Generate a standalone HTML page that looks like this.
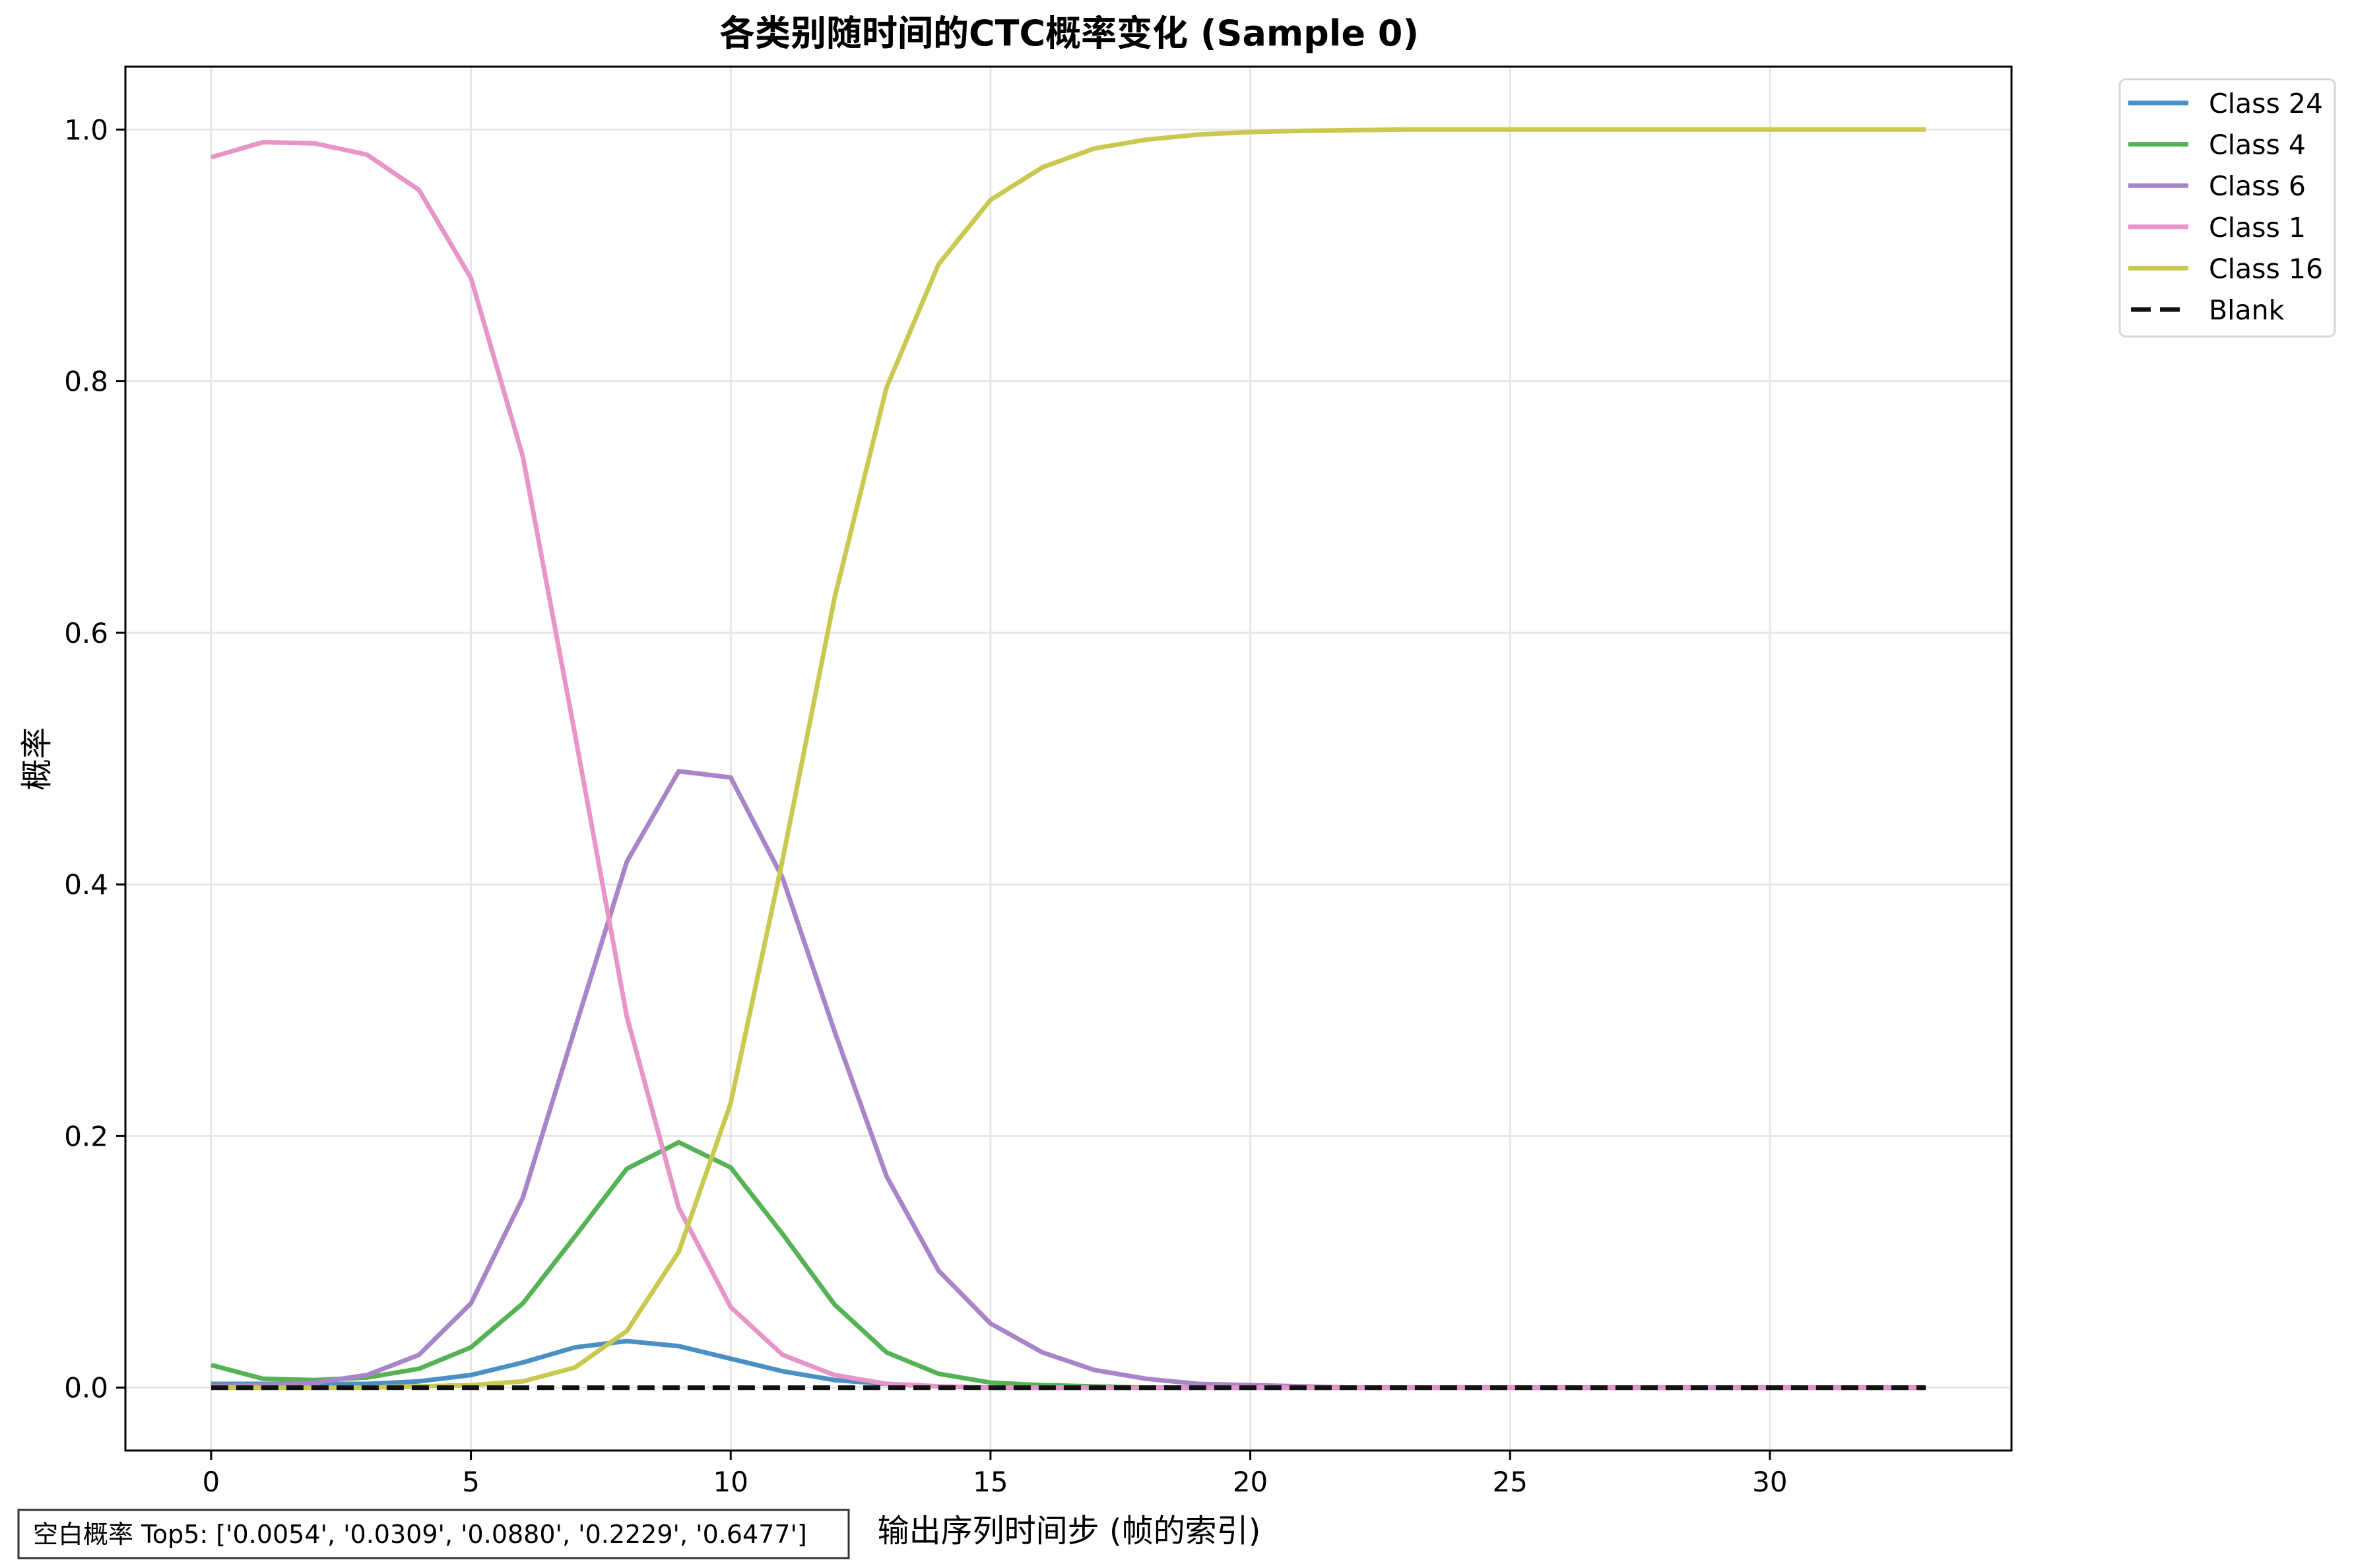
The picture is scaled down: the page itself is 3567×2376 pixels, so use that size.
<!DOCTYPE html>
<html><head><meta charset="utf-8"><style>
html,body{margin:0;padding:0;background:#fff;}
svg{display:block;}
text{font-family:"DejaVu Sans","Liberation Sans","Noto Sans CJK SC",sans-serif;fill:#000;}
</style></head><body>
<svg id="chart" width="3567" height="2376" viewBox="0 0 3567 2376" xmlns="http://www.w3.org/2000/svg">
<rect x="0" y="0" width="3567" height="2376" fill="#fff"/>
<g id="grid"></g>
<g id="series"></g>
<rect x="190" y="101" width="2858" height="2097" fill="none" stroke="#000" stroke-width="3"/>
<g id="ticks"></g>
<text x="1620" y="69" font-size="54" font-weight="bold" text-anchor="middle">各类别随时间的CTC概率变化 (Sample 0)</text>
<text x="1620" y="2336" font-size="48" text-anchor="middle">输出序列时间步 (帧的索引)</text>
<text x="0" y="0" font-size="48" text-anchor="middle" transform="translate(72,1150) rotate(-90)">概率</text>
<g>
<rect x="28" y="2288" width="1258" height="73" fill="#fff" stroke="#333" stroke-width="3"/>
<text x="50" y="2338" font-size="38">空白概率 Top5: ['0.0054', '0.0309', '0.0880', '0.2229', '0.6477']</text>
</g>
<g id="legend">
<rect x="3212" y="120" width="326" height="390" rx="9" fill="#fff" stroke="#d6d6d6" stroke-width="3"/>
</g>
</svg>
<script>
const steps = [0,1,2,3,4,5,6,7,8,9,10,11,12,13,14,15,16,17,18,19,20,21,22,23,24,25,26,27,28,29,30,31,32,33];
const class24 = [0.003,0.003,0.003,0.003,0.005,0.010,0.020,0.032,0.037,0.033,0.023,0.013,0.006,0.003,0.001,0,0,0,0,0,0,0,0,0,0,0,0,0,0,0,0,0,0,0];
const class4 = [0.018,0.007,0.006,0.008,0.015,0.032,0.067,0.120,0.174,0.195,0.175,0.122,0.066,0.028,0.011,0.004,0.002,0.001,0,0,0,0,0,0,0,0,0,0,0,0,0,0,0,0];
const class6 = [0.001,0.002,0.004,0.010,0.026,0.067,0.151,0.285,0.418,0.490,0.485,0.405,0.283,0.168,0.093,0.051,0.028,0.014,0.007,0.003,0.002,0.001,0,0,0,0,0,0,0,0,0,0,0,0];
const class1 = [0.978,0.990,0.989,0.980,0.952,0.882,0.740,0.520,0.295,0.143,0.064,0.026,0.010,0.003,0.001,0,0,0,0,0,0,0,0,0,0,0,0,0,0,0,0,0,0,0];
const class16 = [0,0,0,0,0.001,0.002,0.005,0.016,0.045,0.108,0.226,0.420,0.628,0.795,0.893,0.944,0.970,0.985,0.992,0.996,0.998,0.999,0.9995,1,1,1,1,1,1,1,1,1,1,1];
const blank = [0,0,0,0,0,0,0,0,0,0,0,0,0,0,0,0,0,0,0,0,0,0,0,0,0,0,0,0,0,0,0,0,0,0];
const xTicks = [0,5,10,15,20,25,30];
const yTicks = [0,0.2,0.4,0.6,0.8,1.0];
const yTickLabels = ["0.0","0.2","0.4","0.6","0.8","1.0"];
const seriesNames = ["Class 24","Class 4","Class 6","Class 1","Class 16","Blank"];

const NS = "http://www.w3.org/2000/svg";
const L=190,R=3048,T=101,B=2198;
const xMin=-1.65,xMax=34.65,yMin=-0.05,yMax=1.05;
const sx=v=>L+(v-xMin)/(xMax-xMin)*(R-L);
const sy=v=>B-(v-yMin)/(yMax-yMin)*(B-T);
function mk(tag,attrs,parent){const e=document.createElementNS(NS,tag);for(const k in attrs)e.setAttribute(k,attrs[k]);parent.appendChild(e);return e;}
const grid=document.getElementById('grid'),ticks=document.getElementById('ticks'),ser=document.getElementById('series'),leg=document.getElementById('legend');
xTicks.forEach(v=>{
  const g=mk('line',{x1:sx(v),x2:sx(v),y1:T,y2:B,stroke:'#e6e6e6','stroke-width':3},grid);
  
  
  const t=mk('line',{x1:sx(v),x2:sx(v),y1:B,y2:B+14,stroke:'#000','stroke-width':3},ticks);
  
  
  const tx=mk('text',{x:sx(v),y:B+62,'font-size':42,'text-anchor':'middle'},ticks);
  tx.textContent=v;
  
  
});
yTicks.forEach((v,i)=>{
  const g=mk('line',{x1:L,x2:R,y1:sy(v),y2:sy(v),stroke:'#e6e6e6','stroke-width':3},grid);
  
  
  const t=mk('line',{x1:L-14,x2:L,y1:sy(v),y2:sy(v),stroke:'#000','stroke-width':3},ticks);
  
  
  const tx=mk('text',{x:L-26,y:sy(v)+15,'font-size':42,'text-anchor':'end'},ticks);
  tx.textContent=yTickLabels[i];
  
  
});
const data=[class24,class4,class6,class1,class16,blank];
const colors=['#4a90c4','#55b355','#a884c8','#e794c8','#c9c94f','#111'];
data.forEach((arr,i)=>{
  const d=arr.map((v,j)=>(j?'L':'M')+sx(steps[j]).toFixed(1)+','+sy(v).toFixed(1)).join(' ');
  const attrs={d:d,fill:'none',stroke:colors[i],'stroke-width':i===5?7:7,'stroke-linejoin':'round'};
  if(i===5)attrs['stroke-dasharray']='26,12';
  const p=mk('path',attrs,ser);
  
  
  const yy=156+i*62.6;
  const la={x1:3225,x2:3316,y1:yy,y2:yy,stroke:colors[i],'stroke-width':7};
  if(i===5){la['stroke-dasharray']='30,14';la.x1=3229;}
  const h=mk('line',la,leg);
  
  
  const lt=mk('text',{x:3347,y:yy+15,'font-size':41},leg);
  lt.textContent=seriesNames[i];
  
  
});
</script>
</body></html>
